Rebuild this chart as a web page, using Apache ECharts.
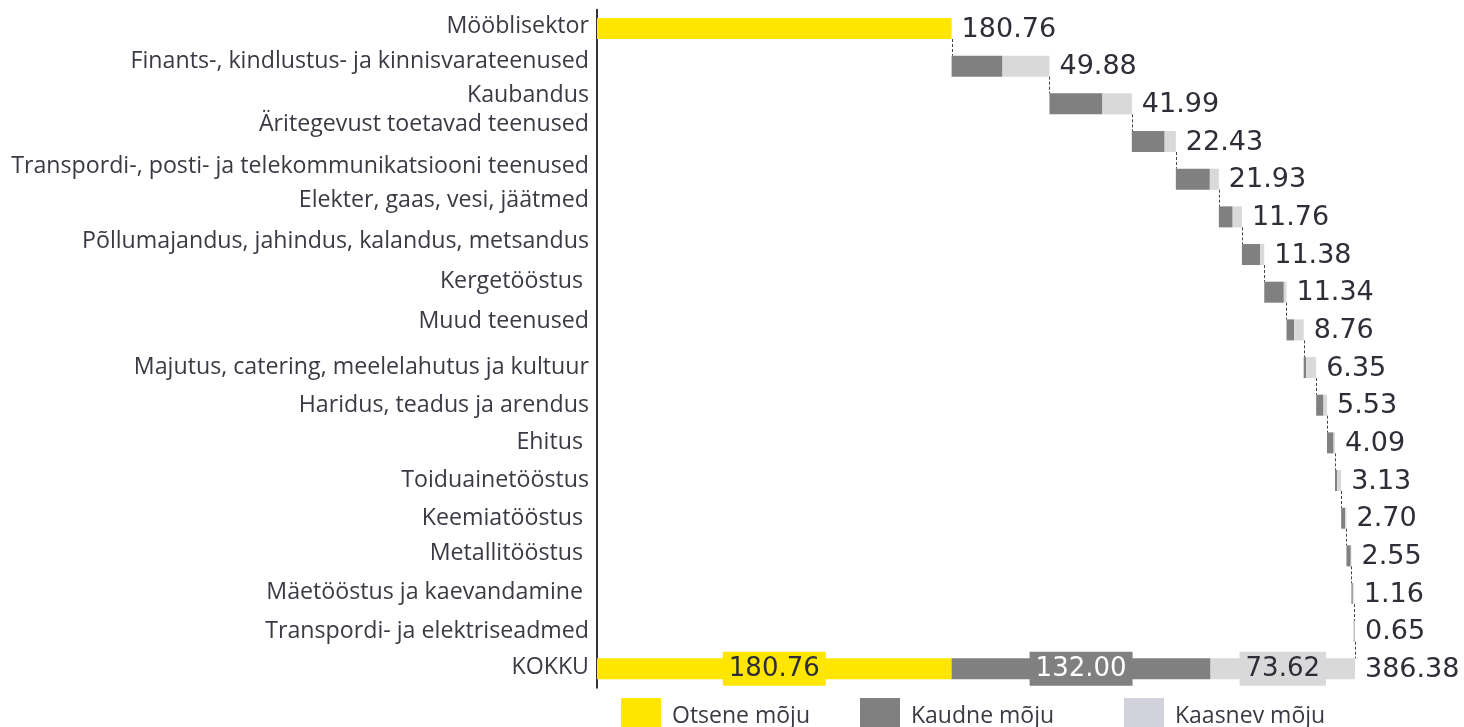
<!DOCTYPE html>
<html>
<head>
<meta charset="utf-8">
<script src="https://cdn.jsdelivr.net/npm/echarts@6/dist/echarts.min.js"></script>
<style>
  html, body { margin: 0; padding: 0; background: #ffffff; }
  #chart { width: 1464px; height: 727px; }
</style>
</head>
<body>
<div id="chart"></div>
<script>
// Sector impact of the furniture industry, split into direct, indirect and induced effect.
const categories = [
  'Mööblisektor',
  'Finants-, kindlustus- ja kinnisvarateenused',
  'Kaubandus',
  'Äritegevust toetavad teenused',
  'Transpordi-, posti- ja telekommunikatsiooni teenused',
  'Elekter, gaas, vesi, jäätmed',
  'Põllumajandus, jahindus, kalandus, metsandus',
  'Kergetööstus ',
  'Muud teenused',
  'Majutus, catering, meelelahutus ja kultuur',
  'Haridus, teadus ja arendus',
  'Ehitus ',
  'Toiduainetööstus',
  'Keemiatööstus ',
  'Metallitööstus ',
  'Mäetööstus ja kaevandamine ',
  'Transpordi- ja elektriseadmed',
  'KOKKU'
];
const seriesNames = ['Otsene mõju', 'Kaudne mõju', 'Kaasnev mõju'];

// Direct, indirect and induced effect per row (last row is the total)
const direct   = [180.76, 0, 0, 0, 0, 0, 0, 0, 0, 0, 0, 0, 0, 0, 0, 0, 0, 180.76];
const indirect = [0, 25.94, 27.00, 16.73, 17.34, 7.04, 9.37, 9.97, 3.83, 1.27, 3.76, 3.35, 1.00, 2.05, 2.20, 0.70, 0.45, 132.00];
const induced  = [0, 23.94, 14.99, 5.70, 4.59, 4.72, 2.01, 1.37, 4.93, 5.08, 1.77, 0.74, 2.13, 0.65, 0.35, 0.46, 0.20, 73.62];

// ---- derived values for the waterfall layout ----
const last = categories.length - 1;
const totals = categories.map((_, i) => direct[i] + indirect[i] + induced[i]);
const base = [];
let running = 0;
for (let i = 0; i < categories.length; i++) {
  if (i === last) { base.push(0); } else { base.push(running); running += totals[i]; }
}
const ends = totals.map((t, i) => base[i] + t);

// ---- styling ----
const YELLOW = '#ffe600';
const DARK = '#808080';
const LIGHT = '#d9d9d9';
const LEGEND_LIGHT = '#d2d2dc';
const TEXT = '#2e2e38';
const CAT_TEXT = '#3a3a44';
const BAR_W = 21;
const VALUE_FONT = '"DejaVu Sans", Verdana, sans-serif';
const CAT_FONT = '"Open Sans", "Noto Sans", sans-serif';

// Upward shift (px) of individual category labels
const labelLift = [2, 5, 8, 17, 13, 16, 13, 11, 8, 0, 0, 0, 0, 0, 2, 1, 0, 1];
const rich = {};
labelLift.forEach(l => {
  rich['u' + l] = {
    fontSize: 23.2, fontFamily: CAT_FONT, color: CAT_TEXT,
    padding: [0, 0, 2 * l, 0]
  };
});

function totalLabel(color, bg, value) {
  return {
    value: value,
    label: {
      show: true, position: 'inside',
      formatter: p => p.value.toFixed(2),
      color: color, backgroundColor: bg,
      fontFamily: VALUE_FONT, fontSize: 26,
      lineHeight: 34, padding: [0, 6]
    }
  };
}

function withTotal(arr, color, bg) {
  return arr.map((v, i) => i === last ? totalLabel(color, bg, v) : v);
}

const chart = echarts.init(document.getElementById('chart'), null, { renderer: 'canvas' });

chart.setOption({
  animation: false,
  backgroundColor: '#ffffff',
  grid: { left: 597, top: 9.7, width: 784.7, height: 678, outerBoundsMode: 'none' },
  xAxis: {
    type: 'value', min: 0, max: 400, show: false
  },
  yAxis: {
    type: 'category', data: categories, inverse: true,
    axisLine: { show: true, lineStyle: { color: '#333333', width: 2 } },
    axisTick: { show: false },
    splitLine: { show: false },
    axisLabel: {
      interval: 0, margin: 8,
      formatter: (value, idx) => '{u' + labelLift[idx] + '|' + value + '}',
      rich: rich
    }
  },
  legend: [
    { name: seriesNames[0], color: YELLOW, left: 621 },
    { name: seriesNames[1], color: DARK, left: 860 },
    { name: seriesNames[2], color: LEGEND_LIGHT, left: 1124 }
  ].map(l => ({
    left: l.left, top: 698, padding: 0,
    itemWidth: 40, itemHeight: 36, icon: 'rect',
    selectedMode: false,
    data: [{ name: l.name, itemStyle: { color: l.color } }],
    textStyle: { fontFamily: CAT_FONT, fontSize: 23, color: CAT_TEXT, padding: [0, 0, 0, 6] }
  })),
  series: [
    {
      name: 'base', type: 'bar', stack: 'w', barWidth: BAR_W, silent: true,
      itemStyle: { color: 'transparent' }, data: base
    },
    {
      name: seriesNames[0], type: 'bar', stack: 'w', barWidth: BAR_W,
      itemStyle: { color: YELLOW }, emphasis: { disabled: true },
      data: withTotal(direct, TEXT, YELLOW)
    },
    {
      name: seriesNames[1], type: 'bar', stack: 'w', barWidth: BAR_W,
      itemStyle: { color: DARK }, emphasis: { disabled: true },
      data: withTotal(indirect, '#ffffff', DARK)
    },
    {
      name: seriesNames[2], type: 'bar', stack: 'w', barWidth: BAR_W,
      itemStyle: { color: LIGHT }, emphasis: { disabled: true },
      data: withTotal(induced, TEXT, LIGHT)
    },
    {
      // end-of-bar value labels and dashed connectors between rows
      name: 'connectors', type: 'custom', silent: true, z: 5,
      encode: { x: 0, y: 1 },
      data: ends.map((e, i) => [e, i, totals[i]]),
      renderItem: function (params, api) {
        const end = api.value(0);
        const row = api.value(1);
        const p = api.coord([end, row]);
        const children = [{
          type: 'text', x: p[0] + 10, y: p[1] + 1,
          style: {
            text: api.value(2).toFixed(2), fill: TEXT,
            fontFamily: VALUE_FONT, fontSize: 27,
            align: 'left', verticalAlign: 'middle'
          }
        }];
        if (row < last) {
          const pNext = api.coord([end, row + 1]);
          const x = Math.round(p[0]) + 0.5;
          children.push({
            type: 'line',
            shape: { x1: x, y1: p[1] + BAR_W / 2, x2: x, y2: pNext[1] - BAR_W / 2 },
            style: { stroke: '#444444', lineWidth: 1, lineDash: [3, 2] }
          });
        }
        return { type: 'group', children: children };
      }
    }
  ]
});
</script>
</body>
</html>
